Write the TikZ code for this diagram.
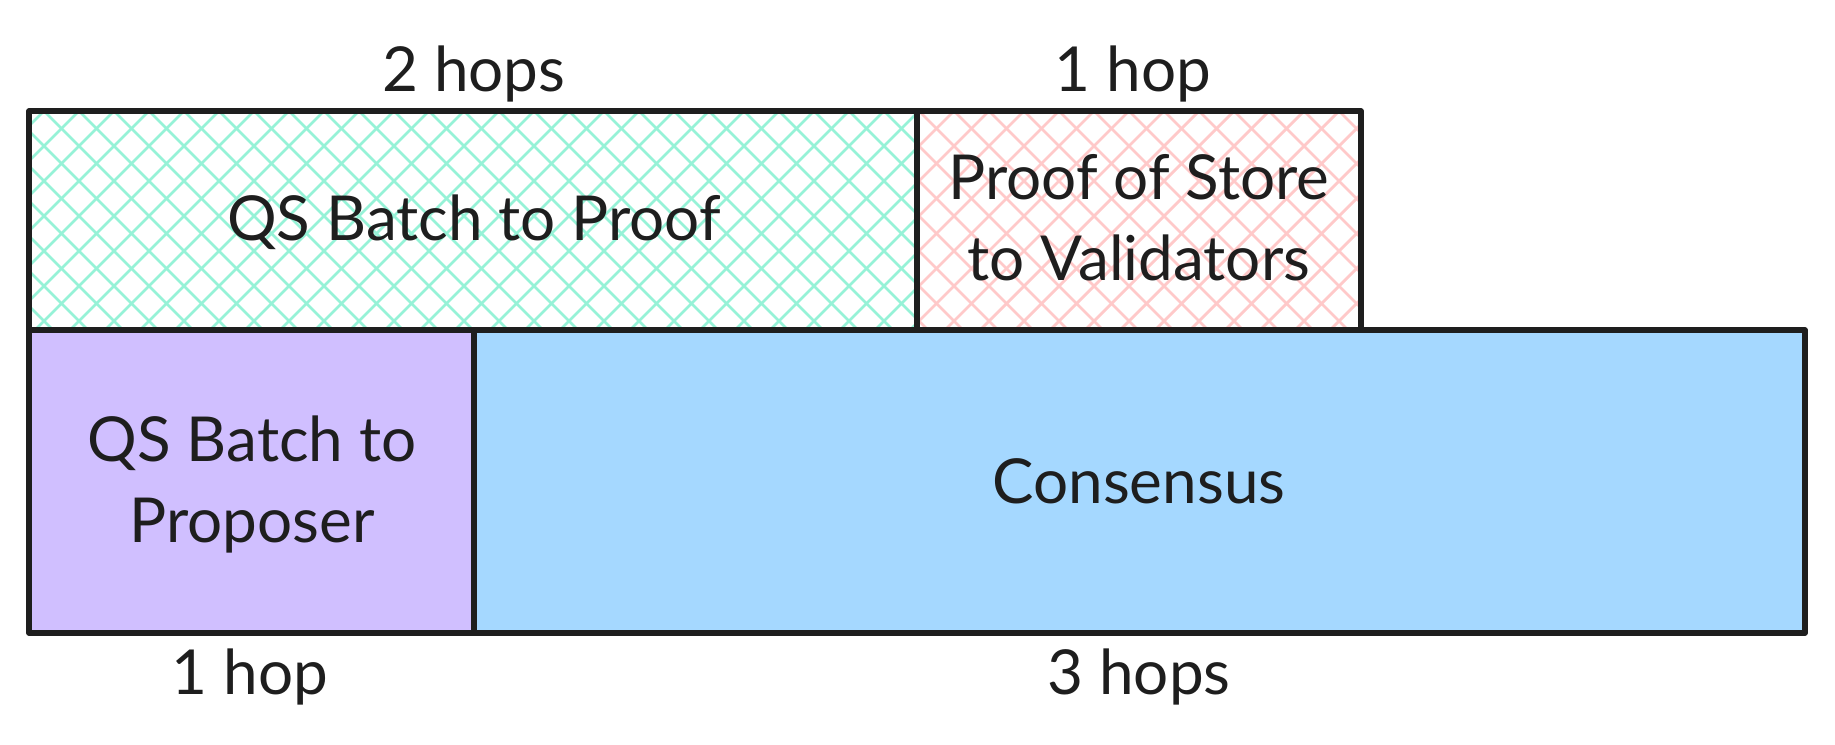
\documentclass[tikz,border=0pt]{standalone}
\usepackage{fontspec}
\setmainfont{Lato}
\definecolor{ink}{HTML}{1E1E1E}
\definecolor{tealhatch}{HTML}{96F2D7}
\definecolor{redhatch}{HTML}{FFC9C9}
\definecolor{violetfill}{HTML}{D0BFFF}
\definecolor{bluefill}{HTML}{A5D8FF}
\begin{document}
\begin{tikzpicture}[x=1pt,y=-1pt,line join=round,line cap=round,
  txt/.style={text=ink,font=\fontsize{62}{81}\selectfont,align=center,inner sep=0pt},
  edge/.style={draw=ink,line width=5.5pt},
  hatch/.style={line width=2.8pt}]
			\useasboundingbox (0,0) rectangle (1835,744);
			% hatched top row
			\begin{scope}
				\clip (29,111) rectangle (917,330);
				\foreach \x in {-247,-212,...,1000}
					\draw[hatch,tealhatch] (\x,100) -- ++(240,240);
				\foreach \x in {-220,-185,...,1200}
					\draw[hatch,tealhatch] (\x,340) -- ++(240,-240);
			\end{scope}
			\begin{scope}
				\clip (917,111) rectangle (1361,330);
				\foreach \x in {663,698,...,1400}
					\draw[hatch,redhatch] (\x,100) -- ++(240,240);
				\foreach \x in {655,690,...,1600}
					\draw[hatch,redhatch] (\x,340) -- ++(240,-240);
			\end{scope}
			% filled bottom row
			\fill[violetfill] (29,330) rectangle (474,633);
			\fill[bluefill] (474,330) rectangle (1805,633);
			\draw[edge] (29,111) rectangle (1361,330) (917,111) -- (917,330);
			\draw[edge] (29,330) rectangle (1805,633) (474,330) -- (474,633);
			
			\node[txt] (batchproof) at (474,222) {QS Batch to Proof};
			\node[txt] (storeval) at (1139,218) {Proof of Store\\to Validators};
			\node[txt] (batchprop) at (252,484) {QS Batch to\\Proposer};
			\node[txt] (consensus) at (1139,481) {Consensus};
			\node[txt] (hopstwo) at (474,74) {2 hops};
			\node[txt] (hopstore) at (1133,74) {1 hop};
			\node[txt] (hopprop) at (250,677) {1 hop};
			\node[txt] (hopsthree) at (1139,677) {3 hops};
\end{tikzpicture}
\end{document}
